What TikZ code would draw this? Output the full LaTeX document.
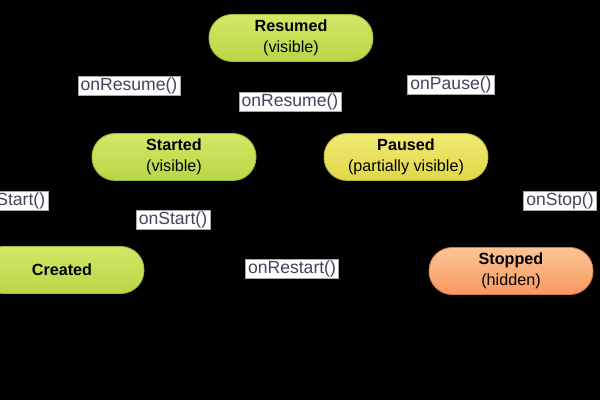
\documentclass[tikz,border=0pt]{standalone}
\usepackage{fontspec}
\setmainfont{Liberation Sans}
\usepackage{tikz}
\usetikzlibrary{arrows.meta, positioning, calc}
\definecolor{stategreentop}{HTML}{D2E866}
\definecolor{stategreenbot}{HTML}{B8D646}
\definecolor{stategreenline}{HTML}{9AB838}
\definecolor{stateyellowtop}{HTML}{F0EA72}
\definecolor{stateyellowbot}{HTML}{E0D748}
\definecolor{stateyellowline}{HTML}{BDB43A}
\definecolor{stateorangetop}{HTML}{FDC597}
\definecolor{stateorangebot}{HTML}{F8985E}
\definecolor{stateorangeline}{HTML}{D07C48}
\definecolor{labeltext}{HTML}{44445A}

\tikzset{
  state/.style={rectangle, rounded corners=0.58cm, minimum width=4.1cm, minimum height=1.175cm,
    align=center, font=\fontsize{11.5}{15}\selectfont, line width=0.6pt},
  greenstate/.style={state, draw=stategreenline, top color=stategreentop, bottom color=stategreenbot},
  yellowstate/.style={state, draw=stateyellowline, top color=stateyellowtop, bottom color=stateyellowbot},
  orangestate/.style={state, draw=stateorangeline, top color=stateorangetop, bottom color=stateorangebot},
  callback/.style={rectangle, fill=white, draw=gray!70, line width=0.4pt, inner xsep=2pt, inner ysep=1pt,
    minimum height=0.47cm, text=labeltext, font=\fontsize{12.5}{14}\selectfont},
  transition/.style={black, line width=1pt, -{Stealth[length=6pt]}}
}

\begin{document}
\begin{tikzpicture}[x=0.025cm, y=-0.025cm]
  % Background
  \fill[black] (0,0) rectangle (600,400);
  \clip (0,0) rectangle (600,400);

  % Bends of the transitions
  \coordinate (pausebend) at (451,36);
  \coordinate (stopbend) at (560,155);
  \coordinate (restartbend) at (214,270);
  \coordinate (startbend) at (11,246);

  % States
  \node[greenstate] (resumed) at (291,38) {\textbf{Resumed}\\(visible)};
  \node[greenstate] (started) at (174,157) {\textbf{Started}\\(visible)};
  \node[yellowstate] (paused) at (406,157) {\textbf{Paused}\\(partially visible)};
  \node[greenstate] (created) at (62,270) {\textbf{Created}};
  \node[orangestate] (stopped) at (511,271) {\textbf{Stopped}\\(hidden)};

  % Transitions (black on black, as in the original)
  \draw[transition] (started.north -| 128,0) |- (resumed.west);
  \draw[transition] (paused.west) -| (resumed.south);
  \draw[transition] (resumed.east) -- (pausebend) -- (pausebend |- paused.north);
  \draw[transition] (paused.east) -- (stopbend) -- (stopbend |- stopped.north);
  \draw[transition] (stopped.west) -- (restartbend) -- (restartbend |- started.south);
  \draw[transition] (created.north east) -- (started.south);
  \draw[transition] (startbend) |- (started.west);

  % Callback labels
  \node[callback] (lblresume) at (129,86) {onResume()};
  \node[callback] (lblresumeb) at (290,102) {onResume()};
  \node[callback] (lblpause) at (451,85) {onPause()};
  \node[callback] (lblstartleft) at (11,201) {onStart()};
  \node[callback] (lblstart) at (173,220) {onStart()};
  \node[callback] (lblrestart) at (292,269) {onRestart()};
  \node[callback] (lblstop) at (560,201) {onStop()};
\end{tikzpicture}
\end{document}
